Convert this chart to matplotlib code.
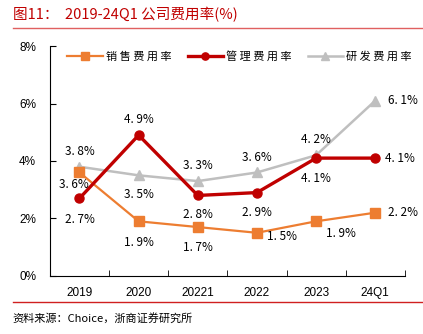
import matplotlib
matplotlib.use("Agg")
import matplotlib.pyplot as plt
from matplotlib.lines import Line2D
import numpy as np

plt.rcParams['font.family'] = ['Liberation Sans', 'Noto Sans CJK SC', 'DejaVu Sans']

# data
categories = ['2019', '2020', '20221', '2022', '2023', '24Q1']
sales = [3.6, 1.9, 1.7, 1.5, 1.9, 2.2]
admin = [2.7, 4.9, 2.8, 2.9, 4.1, 4.1]
rnd = [3.8, 3.5, 3.3, 3.6, 4.2, 6.1]

# label offsets (points) per point
sales_off = [(-4, -9), (0, -15), (0, -15), (18, -3), (18, -9), (20, 0)]
admin_off = [(0, -15), (0, 11), (0, -14), (0, -14), (0, -15), (18, 0)]
rnd_off = [(0, 11), (0, -14), (0, 11), (0, 11), (0, 11), (20, 0)]

red = '#C00000'
orange = '#ED7D31'
gray = '#BFBFBF'
cjk = ['Noto Sans CJK SC', 'DejaVu Sans']

fig = plt.figure(figsize=(4.23, 3.34), dpi=100)
ax = fig.add_axes([0.118, 0.174, 0.839, 0.688])

x = np.arange(len(categories))
ax.plot(x, sales, color=orange, lw=1.6, marker='s', ms=6.5, label='销 售 费 用 率', zorder=3)
ax.plot(x, admin, color=red, lw=2.4, marker='o', ms=6.5, label='管 理 费 用 率', zorder=4)
ax.plot(x, rnd, color=gray, lw=1.8, marker='^', ms=7, label='研 发 费 用 率', zorder=2)

def put_labels(vals, offs):
    for i, v in enumerate(vals):
        ax.annotate(f'{v:.1f}%'.replace('.', '. '), (x[i], v), xytext=offs[i],
                    textcoords='offset points', ha='center', va='center',
                    fontsize=8.5, family=cjk, zorder=5)

put_labels(sales, sales_off)
put_labels(admin, admin_off)
put_labels(rnd, rnd_off)

ax.set_xlim(-0.5, 5.5)
ax.set_ylim(0, 8)
ax.set_yticks([0, 2, 4, 6, 8])
ax.set_yticklabels(['0%', '2%', '4%', '6%', '8%'])
ax.set_xticks(x)
ax.set_xticklabels(categories)
ax.set_xticks(np.arange(-0.5, 6, 1), minor=True)
ax.tick_params(axis='x', which='major', length=0, pad=8, labelsize=8.5)
ax.tick_params(axis='x', which='minor', length=4, direction='in')
ax.tick_params(axis='y', length=4, direction='in', labelsize=8.5, pad=10)
for s in ['top', 'right']:
    ax.spines[s].set_visible(False)

ax.legend(loc='center', bbox_to_anchor=(0.535, 0.955), ncol=3, frameon=False,
          prop={'family': cjk, 'size': 8}, handlelength=3.2, columnspacing=1.4,
          handletextpad=0.3, markerscale=0.8)

# title and footer
fig.text(0.03, 0.955, '图11：  2019-24Q1 公司费用率(%)', color=red, fontsize=10.5,
         family=cjk, va='center', ha='left')
fig.add_artist(Line2D([0.03, 1.0], [0.916, 0.916], color='#E06060', lw=1))
fig.add_artist(Line2D([0.03, 1.0], [0.096, 0.096], color='#D02020', lw=1))
fig.text(0.03, 0.048, '资料来源：Choice，浙商证券研究所', fontsize=8, family=cjk,
         va='center', ha='left')

fig.savefig('out.png', dpi=100)
